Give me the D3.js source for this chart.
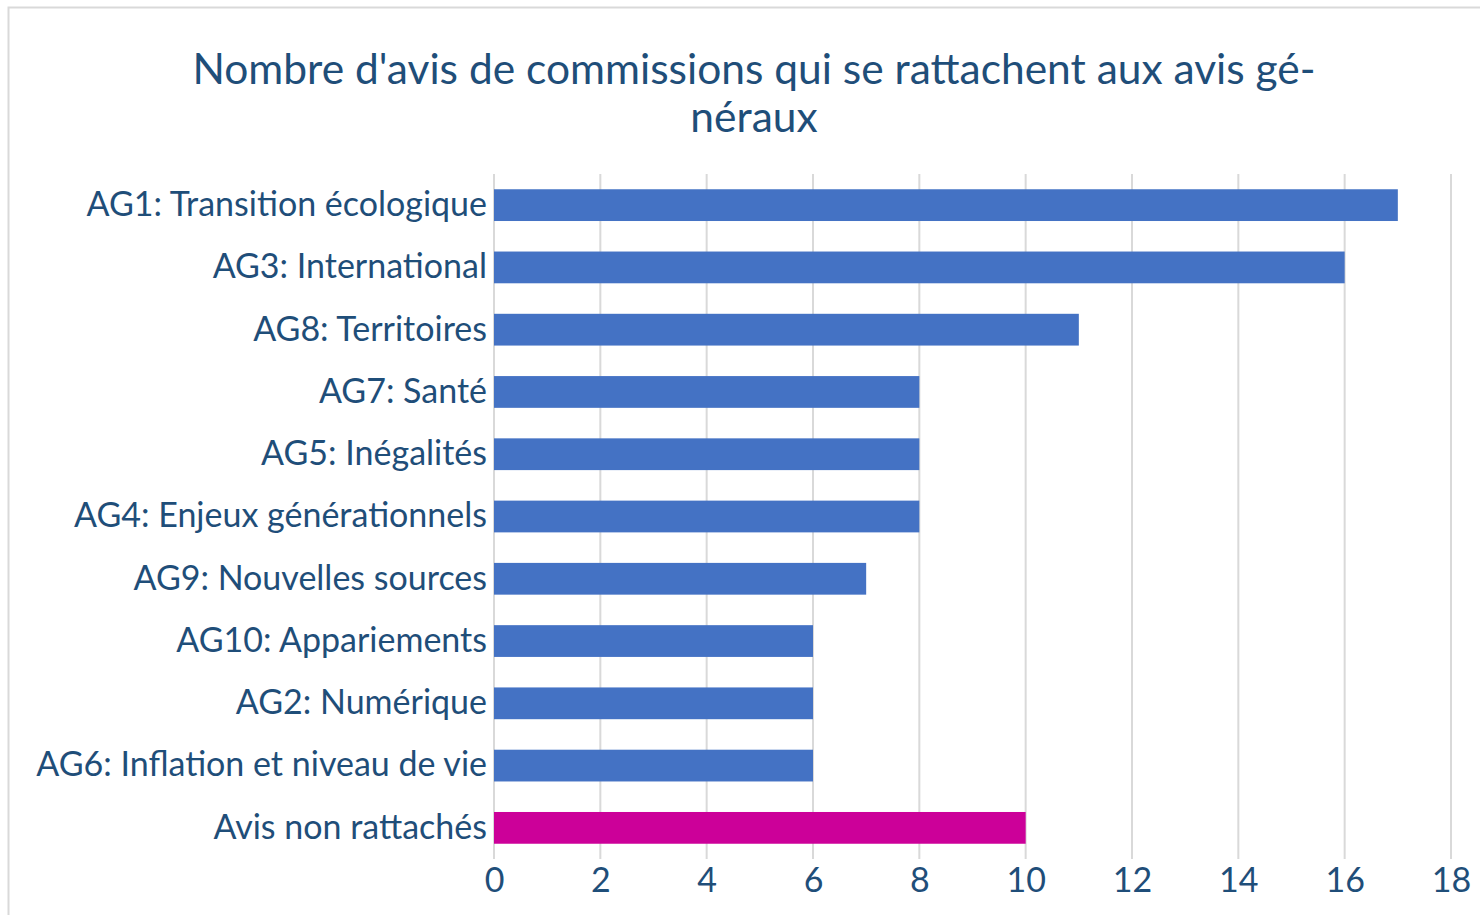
<!DOCTYPE html>
<html>
<head>
  <meta charset="utf-8">
  <title>Nombre d'avis de commissions</title>
  <script src="https://d3js.org/d3.v7.min.js"></script>
  <style>
    body { margin: 0; background: #fff; }
    text { font-family: Lato, "Open Sans", sans-serif; fill: #1F4E79; }
    .grid line { stroke: #d9d9d9; stroke-width: 2px; }
  </style>
</head>
<body>
<svg width="1480" height="915"></svg>
<script>
  // Data
  const categories = [
    "AG1: Transition écologique",
    "AG3: International",
    "AG8: Territoires",
    "AG7: Santé",
    "AG5: Inégalités",
    "AG4: Enjeux générationnels",
    "AG9: Nouvelles sources",
    "AG10: Appariements",
    "AG2: Numérique",
    "AG6: Inflation et niveau de vie",
    "Avis non rattachés"
  ];
  const values = [17, 16, 11, 8, 8, 8, 7, 6, 6, 6, 10];
  const xTicks = [0, 2, 4, 6, 8, 10, 12, 14, 16, 18];
  const titleLines = ["Nombre d'avis de commissions qui se rattachent aux avis gé-", "néraux"];

  const data = categories.map((c, i) => ({ cat: c, value: values[i] }));

  const margin = {top: 174, right: 29, bottom: 56, left: 494};
  const W = 1480, H = 915;
  const width = W - margin.left - margin.right,
        height = H - margin.top - margin.bottom;

  const svg = d3.select("svg");

  // chart border
  svg.append("rect")
    .attr("x", 8.5).attr("y", 7.5)
    .attr("width", W).attr("height", H)
    .attr("fill", "none")
    .attr("stroke", "#d9d9d9")
    .attr("stroke-width", 2);

  // title
  svg.append("text")
    .attr("x", 754)
    .attr("text-anchor", "middle")
    .style("font-size", "42.5px")
    .selectAll("tspan")
    .data(titleLines)
    .join("tspan")
      .attr("x", 754)
      .attr("y", (d, i) => 84 + i * 48)
      .text(d => d);

  const g = svg.append("g")
    .attr("transform", `translate(${margin.left},${margin.top})`);

  const x = d3.scaleLinear()
    .domain([0, 18])
    .range([0, width]);

  const y = d3.scaleBand()
    .domain(categories)
    .range([0, height])
    .paddingInner(0.49)
    .paddingOuter(0.245);

  // vertical gridlines
  g.append("g")
    .attr("class", "grid")
    .selectAll("line")
    .data(xTicks)
    .join("line")
      .attr("x1", d => x(d)).attr("x2", d => x(d))
      .attr("y1", 0).attr("y2", height);

  // bars
  g.selectAll(".bar")
    .data(data)
    .join("rect")
      .attr("class", "bar")
      .attr("x", x(0))
      .attr("y", d => y(d.cat))
      .attr("width", d => x(d.value) - x(0))
      .attr("height", y.bandwidth())
      .attr("fill", d => d.cat === "Avis non rattachés" ? "#CC0099" : "#4472C4");

  // X axis labels
  const xAxis = g.append("g")
    .attr("transform", `translate(0,${height})`)
    .call(d3.axisBottom(x).tickValues(xTicks).tickSize(0).tickPadding(9));
  xAxis.select(".domain").remove();
  xAxis.selectAll("text")
    .style("font-size", "34px")
    .attr("dy", "0.71em");

  // Y axis labels
  const yAxis = g.append("g")
    .call(d3.axisLeft(y).tickSize(0).tickPadding(7));
  yAxis.select(".domain").remove();
  yAxis.selectAll("text")
    .style("font-size", "34px");
</script>
</body>
</html>
